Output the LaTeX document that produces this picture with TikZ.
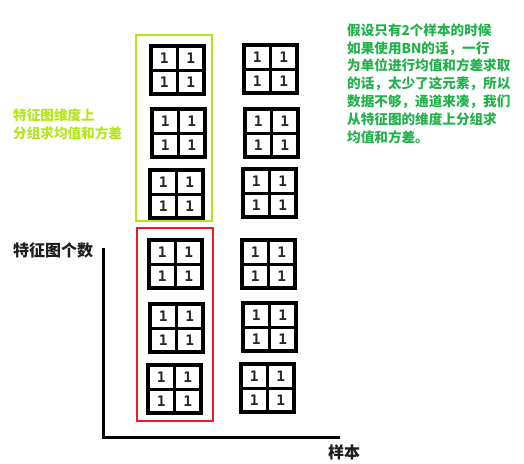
\documentclass[tikz,border=0pt]{standalone}
\usepackage{fontspec}
\newfontfamily\cjk{Noto Sans CJK SC}
\newfontfamily\digitfont{DejaVu Sans Mono}
\usetikzlibrary{calc}
\definecolor{limegreen}{RGB}{181,230,29}
\definecolor{textgreen}{RGB}{34,177,76}
\definecolor{boxred}{RGB}{237,28,36}
\definecolor{labelgray}{RGB}{30,30,30}
\tikzset{
  fmapbox/.style={draw=black, line width=4pt, rectangle, minimum width=53pt, minimum height=48pt, inner sep=0pt, outer sep=0pt, fill=white},
  fmapline/.style={draw=black, line width=3pt},
  digit/.style={inner sep=0pt, text=black!85, font=\digitfont\bfseries\fontsize{14.5}{14.5}\selectfont},
  groupbox/.style={rectangle, line width=2pt, inner sep=0pt, outer sep=0pt},
  axisline/.style={draw=black, line width=3pt},
  cjklabel/.style={inner sep=0pt, align=left}
}
\newcommand\featmap[3]{%
  \node[fmapbox] (#1) at (#2+28.5,#3+26) {};
  \draw[fmapline] (#1.north) -- (#1.south);
  \draw[fmapline] (#1.west) -- (#1.east);
  \node[digit] (#1-a) at ($(#1.center)+(-13.25,-11.5)$) {1};
  \node[digit] (#1-b) at ($(#1.center)+(13.25,-11.5)$) {1};
  \node[digit] (#1-c) at ($(#1.center)+(-13.25,12.5)$) {1};
  \node[digit] (#1-d) at ($(#1.center)+(13.25,12.5)$) {1};
}
\begin{document}
\begin{tikzpicture}[x=1pt,y=-1pt]
\useasboundingbox (0,0) rectangle (524,463);
% group boxes
\node[groupbox, draw=limegreen, minimum width=76pt, minimum height=186pt] (grpA) at (174,128) {};
\node[groupbox, draw=boxred, minimum width=76pt, minimum height=193pt] (grpB) at (175,324.5) {};
% feature maps, left column
\featmap{l1}{149}{44}
\featmap{l2}{150}{107}
\featmap{l3}{148}{168}
\featmap{l4}{147}{238}
\featmap{l5}{148}{302}
\featmap{l6}{146}{363}
% right column
\featmap{r1}{242}{43}
\featmap{r2}{243}{107}
\featmap{r3}{241}{167}
\featmap{r4}{240}{238}
\featmap{r5}{241}{301}
\featmap{r6}{239}{362}
% axes
\coordinate (ytop) at (103,248);
\coordinate (origin) at (103,437);
\coordinate (xend) at (340,437);
\draw[axisline] (ytop) -- (origin) -- (xend);
% labels
\node[cjklabel, anchor=west, text=labelgray, font=\cjk\bfseries\fontsize{16}{18}\selectfont] (ylab) at (13,250) {特征图个数};
\node[cjklabel, anchor=west, text=labelgray, font=\cjk\bfseries\fontsize{16}{18}\selectfont] (xlab) at (328,452) {样本};
\node[cjklabel, anchor=west, text=limegreen, font=\cjk\bfseries\fontsize{13.6}{18}\selectfont] (grplab) at (13,124) {特征图维度上\\分组求均值和方差};
\node[cjklabel, anchor=west, text=textgreen, font=\cjk\bfseries\fontsize{13.6}{17.8}\selectfont] (note) at (347,83.5) {假设只有2个样本的时候\\如果使用BN的话，一行\\为单位进行均值和方差求取\\的话，太少了这元素，所以\\数据不够，通道来凑，我们\\从特征图的维度上分组求\\均值和方差。};
\end{tikzpicture}
\end{document}
